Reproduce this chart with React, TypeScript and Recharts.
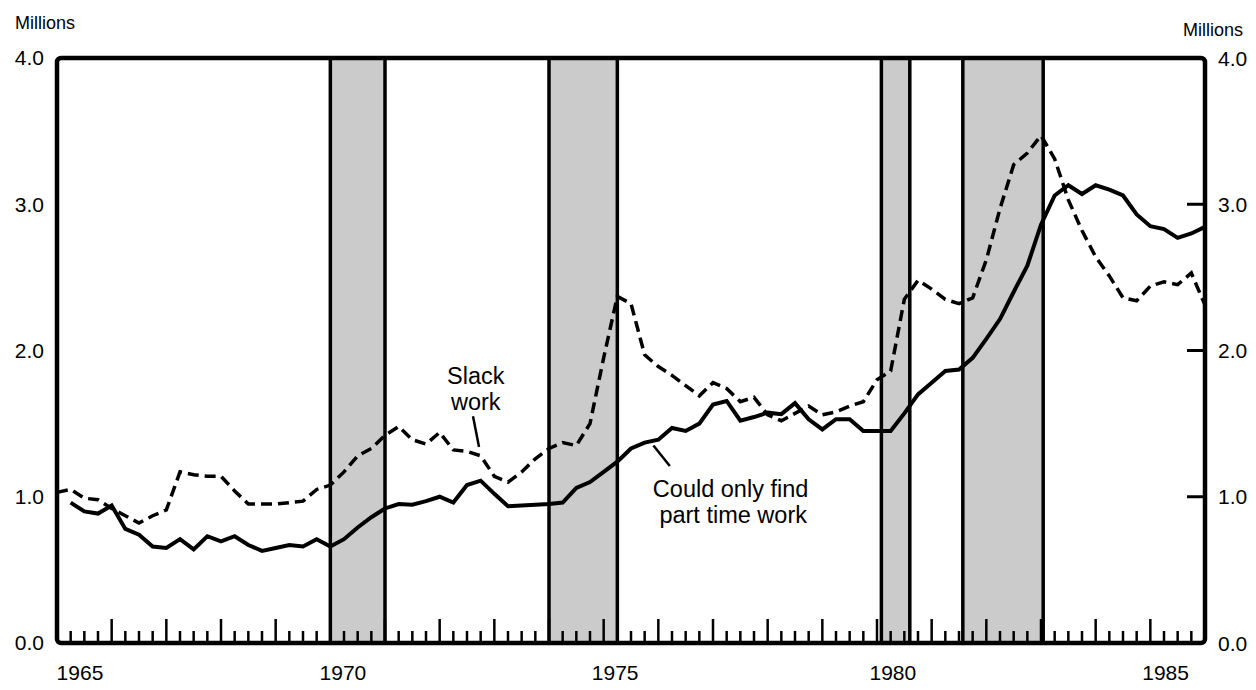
import React from 'react';
import { ComposedChart, Line, XAxis, YAxis, ReferenceArea, ReferenceLine, ReferenceDot } from 'recharts';

// quarterly time axis, 1965 Q1 .. 1986 Q1 (decimal years)
const quarterDates = Array.from({ length: 85 }, (_, i) => 1965 + i / 4);

// Could only find part time work (millions)
const partTime = [
  null, 0.96, 0.9, 0.885, 0.94, 0.78, 0.74, 0.66, 0.65, 0.71, 0.64, 0.73,
  0.695, 0.73, 0.67, 0.63, 0.65, 0.67, 0.66, 0.71, 0.66, 0.71, 0.79, 0.86,
  0.92, 0.95, 0.945, 0.97, 1.0, 0.96, 1.08, 1.11, 1.02, 0.935, 0.94, 0.945,
  0.95, 0.96, 1.06, 1.1, 1.17, 1.24, 1.33, 1.37, 1.39, 1.47, 1.45, 1.5,
  1.63, 1.655, 1.52, 1.545, 1.575, 1.565, 1.64, 1.53, 1.46, 1.53, 1.53, 1.45,
  1.45, 1.45, 1.57, 1.7, 1.78, 1.86, 1.87, 1.95, 2.08, 2.215, 2.4, 2.58,
  2.86, 3.06, 3.13, 3.07, 3.13, 3.1, 3.06, 2.93, 2.85, 2.83, 2.77, 2.8, 2.845,
];

// Slack work (millions)
const slackWork = [
  1.03, 1.05, 0.99, 0.98, 0.92, 0.87, 0.82, 0.87, 0.91, 1.17, 1.15, 1.14,
  1.14, 1.04, 0.95, 0.95, 0.95, 0.96, 0.97, 1.05, 1.08, 1.17, 1.28, 1.33,
  1.42, 1.48, 1.39, 1.36, 1.44, 1.32, 1.31, 1.28, 1.14, 1.1, 1.17, 1.26,
  1.33, 1.37, 1.35, 1.5, 1.95, 2.37, 2.32, 1.97, 1.89, 1.83, 1.76, 1.69,
  1.78, 1.74, 1.65, 1.68, 1.56, 1.52, 1.57, 1.62, 1.56, 1.58, 1.62, 1.65,
  1.8, 1.86, 2.35, 2.48, 2.42, 2.35, 2.32, 2.36, 2.62, 2.97, 3.27, 3.35,
  3.47, 3.31, 3.03, 2.82, 2.64, 2.51, 2.36, 2.34, 2.44, 2.47, 2.45, 2.53, 2.31,
];

// shaded recession periods
const recessions = [
  [1970.0, 1971.0],
  [1974.0, 1975.25],
  [1980.08, 1980.6],
  [1981.57, 1983.04],
];

const yearLabels = ['1965', '1970', '1975', '1980', '1985'];
const yearLabelPos = [1965.42, 1970.23, 1975.21, 1980.29, 1985.28];
const valueTicks = [0, 1, 2, 3, 4];
const minorTicks = quarterDates.slice(1, -1);
const xTicks = [...minorTicks, ...yearLabelPos].sort((a, b) => a - b);

const data = quarterDates.map((t, i) => ({ t, partTime: partTime[i], slack: slackWork[i] }));

const FONT = '"Liberation Sans", Arial, Helvetica, sans-serif';

// bottom axis: quarter ticks point up into the plot, year labels sit below
const renderXTick = (props: any) => {
  const { x, y, payload } = props;
  const v = payload.value;
  const li = yearLabelPos.indexOf(v);
  if (li >= 0) {
    return (
      <text x={x} y={y + 37} textAnchor="middle" fontSize={21} fill="#000">
        {yearLabels[li]}
      </text>
    );
  }
  const len = Number.isInteger(v) ? 24 : 12;
  return <line x1={x} x2={x} y1={y} y2={y - len} stroke="#000" strokeWidth={2.5} />;
};

const renderRightTick = (props: any) => {
  const { x, y, payload } = props;
  const inner = payload.value > 0 && payload.value < 4;
  return (
    <g>
      {inner && <line x1={x - 18} x2={x} y1={y} y2={y} stroke="#000" strokeWidth={3} />}
      <text x={x + 13} y={y} dy="0.36em" fontSize={21} fill="#000">
        {payload.value.toFixed(1)}
      </text>
    </g>
  );
};

const textLabel = (lines: string[], anchor: string) => (p: any) => (
  <text x={p.viewBox.x} y={p.viewBox.y} fontSize={23.5} fill="#000" textAnchor={anchor}>
    {lines.map((s, i) => (
      <tspan key={i} x={p.viewBox.x} dy={i === 0 ? 0 : 26}>{s}</tspan>
    ))}
  </text>
);

const App: React.FC = () => {
  return (
    <div style={{ position: 'absolute', left: 0, top: 0, width: 1256, height: 690, background: '#fff', fontFamily: FONT }}>
      <ComposedChart width={1256} height={690} data={data} margin={{ top: 58, right: 0, bottom: 0, left: 0 }}>
        <XAxis xAxisId="q" dataKey="t" type="number" domain={[1965, 1986]} ticks={xTicks} interval={0}
          height={47} axisLine={false} tickLine={false} tickSize={0} tickMargin={0} tick={renderXTick} />
        <YAxis yAxisId="left" orientation="left" width={57} domain={[0, 4]} ticks={valueTicks} interval={0}
          axisLine={false} tickLine={false} tickSize={0} tickMargin={13}
          tickFormatter={(v: number) => v.toFixed(1)} tick={{ fill: '#000', fontSize: 21 }}
          label={() => <text x={15} y={29} fontSize={18} fill="#000">Millions</text>} />
        <YAxis yAxisId="right" orientation="right" width={51} domain={[0, 4]} ticks={valueTicks} interval={0}
          axisLine={false} tickLine={false} tickSize={0} tickMargin={0} tick={renderRightTick}
          label={() => <text x={1183} y={36} fontSize={18} fill="#000">Millions</text>} />

        {recessions.map(([a, b], i) => (
          <ReferenceArea key={i} xAxisId="q" yAxisId="left" x1={a} x2={b} y1={0} y2={4}
            fill="#cbcbcb" fillOpacity={1} stroke="#000" strokeWidth={3.5} />
        ))}

        {/* invisible copy so the right axis gets a scale */}
        <Line xAxisId="q" yAxisId="right" dataKey="slack" stroke="none" dot={false} activeDot={false}
          legendType="none" isAnimationActive={false} />
        <Line xAxisId="q" yAxisId="left" dataKey="slack" type="linear" stroke="#000" strokeWidth={3.5}
          strokeDasharray="11 6" dot={false} isAnimationActive={false} />
        <Line xAxisId="q" yAxisId="left" dataKey="partTime" type="linear" stroke="#000" strokeWidth={4}
          dot={false} isAnimationActive={false} />

        <ReferenceLine xAxisId="q" yAxisId="left" segment={[{ x: 1972.61, y: 1.55 }, { x: 1972.72, y: 1.34 }]}
          stroke="#000" strokeWidth={2.5} />
        <ReferenceLine xAxisId="q" yAxisId="left" segment={[{ x: 1975.91, y: 1.35 }, { x: 1976.21, y: 1.21 }]}
          stroke="#000" strokeWidth={2.5} />
        <ReferenceDot xAxisId="q" yAxisId="left" x={1972.66} y={1.77} r={0} stroke="none"
          label={textLabel(['Slack', 'work'], 'middle')} />
        <ReferenceDot xAxisId="q" yAxisId="left" x={1975.9} y={1.0} r={0} stroke="none"
          label={textLabel(['Could only find', ' part time work'], 'start')} />

        <ReferenceArea xAxisId="q" yAxisId="left" x1={1965} x2={1986} y1={0} y2={4}
          fill="none" stroke="#000" strokeWidth={4.5} radius={4} />
      </ComposedChart>
    </div>
  );
};

export default App;
